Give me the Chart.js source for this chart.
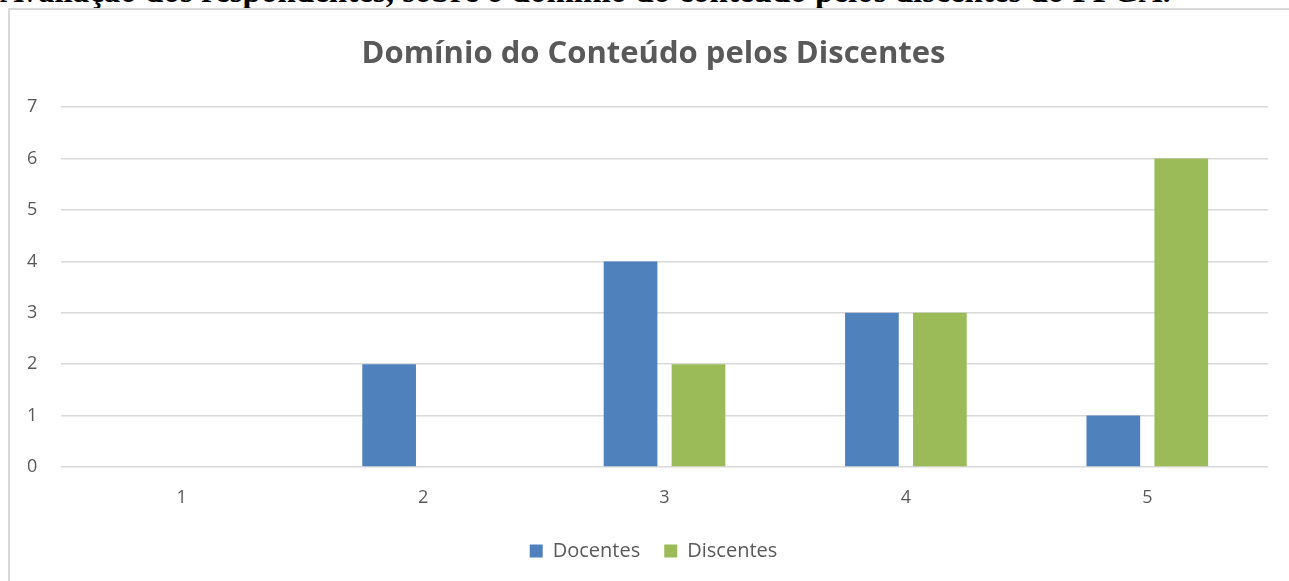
<!DOCTYPE html>
<html>
<head>
<meta charset="utf-8">
<script src="https://cdn.jsdelivr.net/npm/chart.js@4.4.1/dist/chart.umd.min.js"></script>
<style>
  html,body{margin:0;padding:0;background:#fff;overflow:hidden;width:1289px;height:581px;}
  #caption{position:absolute;left:0;top:-27px;white-space:nowrap;font-family:"Liberation Serif","DejaVu Serif",serif;font-size:33px;font-weight:bold;color:#000;}
  #frame{position:absolute;left:8px;top:8px;width:1300px;height:600px;border:2px solid #d9d9d9;box-sizing:border-box;background:#fff;}
  #wrap{position:absolute;left:10px;top:10px;width:1279px;height:571px;}
</style>
</head>
<body>
<div id="caption">Avaliação dos respondentes, sobre o domínio do conteúdo pelos discentes do PPGA.</div>
<div id="frame"></div>
<div id="wrap"><canvas id="c"></canvas></div>
<script>
const categories = ["1", "2", "3", "4", "5"];
const docentes = [0, 2, 4, 3, 1];
const discentes = [0, 0, 2, 3, 6];
const yTicks = [0, 1, 2, 3, 4, 5, 6, 7];
const chartTitle = "Domínio do Conteúdo pelos Discentes";

const txt = "#595959";
const font = "'Open Sans', 'Liberation Sans', sans-serif";

new Chart(document.getElementById('c'), {
  type: 'bar',
  data: {
    labels: categories,
    datasets: [
      {label: "Docentes", data: docentes, backgroundColor: "#4f81bd", categoryPercentage: 0.563, barPercentage: 0.79},
      {label: "Discentes", data: discentes, backgroundColor: "#9bbb59", categoryPercentage: 0.563, barPercentage: 0.79}
    ]
  },
  options: {
    responsive: true,
    maintainAspectRatio: false,
    animation: false,
    layout: {padding: {left: 29, right: 21, top: 0, bottom: 10}},
    plugins: {
      title: {display: true, text: chartTitle, color: txt, font: {family: font, size: 31, weight: 'bold'}, padding: {top: 26, bottom: 34}},
      legend: {position: 'bottom', labels: {color: txt, boxWidth: 13, boxHeight: 13, padding: 24, font: {family: font, size: 20}}},
      tooltip: {enabled: false}
    },
    scales: {
      x: {
        grid: {display: false, drawTicks: false},
        border: {display: false},
        ticks: {color: txt, font: {family: font, size: 18}, padding: 20},
        afterFit: (s) => { s.height = 50; }
      },
      y: {
        min: 0, max: 7,
        afterBuildTicks: (s) => { s.ticks = yTicks.map(v => ({value: v})); },
        grid: {color: "#d9d9d9", lineWidth: 1.5, drawTicks: false},
        border: {display: false},
        ticks: {color: txt, font: {family: font, size: 18}, mirror: true, padding: -34},
        afterFit: (s) => { s.width = 22; }
      }
    }
  }
});
</script>
</body>
</html>
